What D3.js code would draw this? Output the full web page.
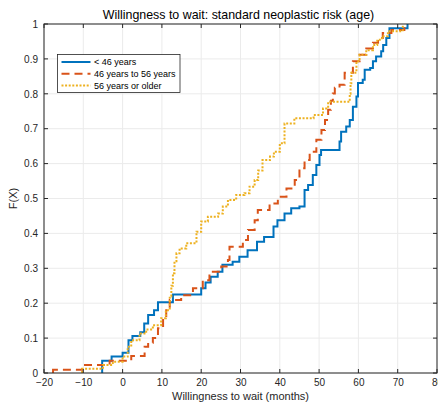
<!DOCTYPE html>
<html>
<head>
<meta charset="utf-8">
<script src="https://cdn.jsdelivr.net/npm/d3@7"></script>
<style>
  body { margin: 0; background: #fff; }
  svg { display: block; font-family: "Liberation Sans", Arial, sans-serif; }
</style>
</head>
<body>
<div id="chart"></div>
<script>
// empirical CDF steps: [x where F jumps, new F]
var under46 = [
  [-5.2, 0.035], [-2.8, 0.047], [0, 0.058], [1.5, 0.094], [2.5, 0.106], [4.5, 0.117],
  [5.5, 0.142], [6.5, 0.166], [8, 0.18], [9, 0.203], [12.8, 0.225], [20, 0.243],
  [21.1, 0.259], [22.4, 0.276], [24.2, 0.29], [25.4, 0.31], [28, 0.319], [29.7, 0.333],
  [31.8, 0.352], [34.2, 0.376], [36, 0.39], [38.4, 0.42], [39.4, 0.438], [41.2, 0.457],
  [42.9, 0.472], [45, 0.477], [46.3, 0.524], [47.2, 0.539], [48.4, 0.567], [49.3, 0.596],
  [50.1, 0.625], [50.5, 0.639], [55.2, 0.663], [55.6, 0.691], [56.9, 0.706], [57.8, 0.725],
  [58.6, 0.763], [59.5, 0.792], [59.9, 0.831], [61.1, 0.84], [61.6, 0.869], [63, 0.874],
  [63.7, 0.893], [64.5, 0.907], [65.8, 0.922], [66.3, 0.94], [67.1, 0.96], [67.9, 0.988],
  [72.5, 1]
];
var from46to56 = [
  [-17.7, 0.009], [-10.3, 0.023], [-3.3, 0.035], [2.2, 0.049], [5.6, 0.075], [6.5, 0.087],
  [7.7, 0.1], [9, 0.128], [10.3, 0.157], [11.1, 0.18], [12, 0.209], [14.9, 0.223],
  [17.9, 0.243], [20.4, 0.266], [22.1, 0.29], [25.1, 0.305], [26.8, 0.324], [27.2, 0.362],
  [30.6, 0.381], [31.9, 0.41], [33.6, 0.438], [34.4, 0.467], [37.4, 0.486], [39.5, 0.505],
  [41.7, 0.529], [43.8, 0.553], [45, 0.587], [46.3, 0.61], [47.6, 0.634], [49.3, 0.668],
  [50.6, 0.696], [51.5, 0.725], [52.3, 0.754], [53, 0.78], [53.5, 0.801], [54, 0.817],
  [55.2, 0.826], [56.5, 0.86], [58.6, 0.893], [60.3, 0.912], [62, 0.93], [63.7, 0.946],
  [65, 0.96], [66.2, 0.974], [68.4, 0.983], [71.7, 1]
];
var over56 = [
  [-10.3, 0.012], [-5, 0.023], [-2.5, 0.032], [0, 0.047], [1.3, 0.075], [2.2, 0.094],
  [4.3, 0.113], [6, 0.125], [7.7, 0.137], [9.8, 0.157], [11, 0.18], [12, 0.219],
  [12.4, 0.25], [12.8, 0.286], [13.2, 0.32], [13.7, 0.343], [14.5, 0.357], [16.2, 0.372],
  [18.8, 0.405], [20, 0.434], [21.7, 0.448], [24.3, 0.457], [25.5, 0.477], [26.8, 0.496],
  [28.9, 0.51], [31, 0.515], [32.3, 0.534], [33.6, 0.553], [34.5, 0.58], [35.6, 0.61],
  [37.5, 0.62], [38.5, 0.634], [40, 0.658], [41.2, 0.715], [43.7, 0.73], [48.6, 0.739],
  [51, 0.758], [52.3, 0.777], [57.8, 0.8], [58, 0.83], [58.2, 0.86], [59.5, 0.893],
  [60.3, 0.912], [62, 0.925], [63.7, 0.94], [64.8, 0.955], [66, 0.965], [67.5, 0.979],
  [71.3, 1]
];

var seriesNames = ["< 46 years", "46 years to 56 years", "56 years or older"];
var xTicks = [-20, -10, 0, 10, 20, 30, 40, 50, 60, 70, 80];
var yTicks = [0, 0.1, 0.2, 0.3, 0.4, 0.5, 0.6, 0.7, 0.8, 0.9, 1];

var width = 438, height = 407;
var margin = {top: 24, right: 1, bottom: 34, left: 44};

var svg = d3.select("#chart").append("svg")
  .attr("width", width)
  .attr("height", height);

var x = d3.scaleLinear().domain([-20, 80]).range([margin.left, width - margin.right]);
var y = d3.scaleLinear().domain([0, 1]).range([height - margin.bottom, margin.top]);

// grid
svg.append("g").selectAll("line").data(xTicks).enter().append("line")
  .attr("x1", d => x(d)).attr("x2", d => x(d))
  .attr("y1", y(0)).attr("y2", y(1))
  .attr("stroke", "#ebebeb").attr("stroke-width", 1);
svg.append("g").selectAll("line").data(yTicks).enter().append("line")
  .attr("x1", x(-20)).attr("x2", x(80))
  .attr("y1", d => y(d)).attr("y2", d => y(d))
  .attr("stroke", "#ebebeb").attr("stroke-width", 1);

svg.append("defs").append("clipPath").attr("id", "clip")
  .append("rect")
  .attr("x", x(-20)).attr("y", y(1) - 2)
  .attr("width", x(80) - x(-20)).attr("height", y(0) - y(1) + 2);

var line = d3.line()
  .x(d => x(d[0]))
  .y(d => y(d[1]))
  .curve(d3.curveStepAfter);

function withStart(steps) {
  return [[steps[0][0], 0]].concat(steps);
}

var styles = [
  {data: under46, color: "#0072BD", dash: null},
  {data: from46to56, color: "#D95319", dash: "8,5"},
  {data: over56, color: "#EDB120", dash: "2,1.6"}
];

var plot = svg.append("g").attr("clip-path", "url(#clip)");
styles.forEach(function(s) {
  plot.append("path")
    .datum(withStart(s.data))
    .attr("d", line)
    .attr("fill", "none")
    .attr("stroke", s.color)
    .attr("stroke-width", 2)
    .attr("stroke-dasharray", s.dash);
});

// axes
var tickColor = "#262626";
var xAxis = svg.append("g")
  .attr("transform", "translate(0," + y(0) + ")")
  .call(d3.axisBottom(x).tickValues(xTicks).tickSize(0).tickPadding(6));
var yAxis = svg.append("g")
  .attr("transform", "translate(" + x(-20) + ",0)")
  .call(d3.axisLeft(y).tickValues(yTicks).tickSize(0).tickPadding(6).tickFormat(d3.format("")));
[xAxis, yAxis].forEach(function(a) {
  a.select(".domain").remove();
  a.selectAll("text").attr("fill", tickColor).style("font-size", "10px");
});

// box
svg.append("rect")
  .attr("x", x(-20)).attr("y", y(1))
  .attr("width", x(80) - x(-20)).attr("height", y(0) - y(1))
  .attr("fill", "none").attr("stroke", tickColor).attr("stroke-width", 1);

// inward tick marks on all sides
var tk = svg.append("g").attr("stroke", tickColor).attr("stroke-width", 1);
xTicks.forEach(function(t) {
  tk.append("line").attr("x1", x(t)).attr("x2", x(t)).attr("y1", y(0)).attr("y2", y(0) - 4);
  tk.append("line").attr("x1", x(t)).attr("x2", x(t)).attr("y1", y(1)).attr("y2", y(1) + 4);
});
yTicks.forEach(function(t) {
  tk.append("line").attr("x1", x(-20)).attr("x2", x(-20) + 4).attr("y1", y(t)).attr("y2", y(t));
  tk.append("line").attr("x1", x(80)).attr("x2", x(80) - 4).attr("y1", y(t)).attr("y2", y(t));
});

// title and labels
var cx = (x(-20) + x(80)) / 2;
svg.append("text").attr("x", cx - 2).attr("y", 19)
  .attr("text-anchor", "middle").attr("fill", "#000").style("font-size", "12.4px")
  .text("Willingness to wait: standard neoplastic risk (age)");
svg.append("text").attr("x", cx).attr("y", 400)
  .attr("text-anchor", "middle").attr("fill", tickColor).style("font-size", "11px")
  .text("Willingness to wait (months)");
svg.append("text")
  .attr("transform", "translate(17," + (y(0.5)) + ") rotate(-90)")
  .attr("text-anchor", "middle").attr("fill", tickColor).style("font-size", "11px")
  .text("F(X)");

// legend
var lg = svg.append("g").attr("transform", "translate(57.5,54.5)");
lg.append("rect").attr("width", 122.5).attr("height", 38)
  .attr("fill", "#fff").attr("stroke", "#262626").attr("stroke-width", 0.8);
styles.forEach(function(s, i) {
  var ly = 7.5 + i * 11.7;
  lg.append("line").attr("x1", 4).attr("x2", 33).attr("y1", ly).attr("y2", ly)
    .attr("stroke", s.color).attr("stroke-width", 2).attr("stroke-dasharray", s.dash);
  lg.append("text").attr("x", 36.5).attr("y", ly + 3.3)
    .attr("fill", "#000").style("font-size", "9px")
    .text(seriesNames[i]);
});
</script>
</body>
</html>
